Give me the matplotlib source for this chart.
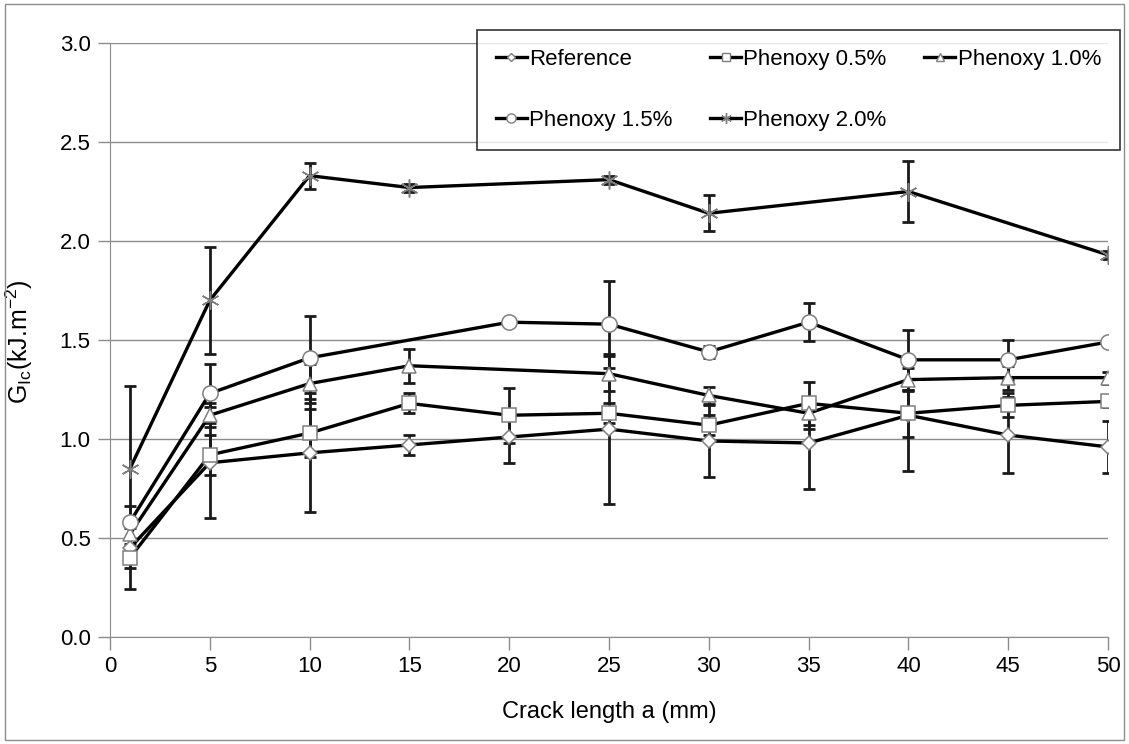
import matplotlib
matplotlib.use("Agg")
import matplotlib.pyplot as plt
from matplotlib.patches import Rectangle

plt.rcParams["font.family"] = ["Liberation Sans", "DejaVu Sans"]

# crack length a (mm)
crack = [1, 5, 10, 15, 20, 25, 30, 35, 40, 45, 50]

# G_Ic (kJ/m2) per formulation; None = no point at that crack length
ref = [0.45, 0.88, 0.93, 0.97, 1.01, 1.05, 0.99, 0.98, 1.12, 1.02, 0.96]
ref_err = [0.10, 0.28, 0.30, 0.05, 0.13, 0.38, 0.18, 0.23, 0.28, 0.19, 0.13]
p05 = [0.40, 0.92, 1.03, 1.18, 1.12, 1.13, 1.07, 1.18, 1.13, 1.17, 1.19]
p05_err = [0.16, 0.10, 0.12, 0.05, 0.14, 0.05, 0.05, 0.11, 0.12, 0.06, 0.03]
p10 = [0.52, 1.12, 1.28, 1.37, None, 1.33, 1.22, 1.13, 1.30, 1.31, 1.31]
p10_err = [0.05, 0.06, 0.10, 0.085, None, 0.09, 0.045, 0.08, 0.06, 0.06, 0.03]
p15 = [0.58, 1.23, 1.41, None, 1.59, 1.58, 1.44, 1.59, 1.40, 1.40, 1.49]
p15_err = [0.08, 0.15, 0.21, None, 0.02, 0.22, 0.03, 0.095, 0.15, 0.10, 0.02]
p20 = [0.85, 1.70, 2.33, 2.27, None, 2.31, 2.14, None, 2.25, None, 1.93]
p20_err = [0.42, 0.27, 0.065, 0.02, None, 0.02, 0.09, None, 0.155, None, 0.02]

series = [
    ("Reference", ref, ref_err, "D", 7),
    ("Phenoxy 0.5%", p05, p05_err, "s", 10),
    ("Phenoxy 1.0%", p10, p10_err, "^", 10),
    ("Phenoxy 1.5%", p15, p15_err, "o", 11),
    ("Phenoxy 2.0%", p20, p20_err, (6, 2, 0), 13),
]

GRID = "#8c8c8c"
fig = plt.figure(figsize=(11.29, 7.44), dpi=100)
ax = fig.add_axes([0.0974, 0.1438, 0.8840, 0.7984])

handles = {}
for name, vals, errs, mk, ms in series:
    xs = [c for c, v in zip(crack, vals) if v is not None]
    ys = [v for v in vals if v is not None]
    es = [e for e in errs if e is not None]
    ax.errorbar(xs, ys, yerr=es, fmt="none", ecolor="#1a1a1a", elinewidth=2,
                capsize=4, capthick=2, zorder=2)
    ax.plot(xs, ys, color="black", lw=2.4, zorder=3)
    ax.plot(xs, ys, ls="none", marker=mk, ms=ms, mfc="white", mec="#7f7f7f",
            mew=1.1, zorder=4)
    h, = ax.plot([], [], color="black", lw=2.4, marker=mk, ms=ms * 0.6,
                 mfc="white", mec="#7f7f7f", mew=1)
    handles[name] = h

ax.set_xlim(0, 50)
ax.set_ylim(0, 3)
ax.set_xticks(range(0, 51, 5))
ax.set_yticks([0, 0.5, 1.0, 1.5, 2.0, 2.5, 3.0])
ax.set_yticklabels(["0.0", "0.5", "1.0", "1.5", "2.0", "2.5", "3.0"])
ax.tick_params(axis="both", direction="out", length=9, width=1, color=GRID,
               labelsize=16, pad=5)
for s in ("top", "right"):
    ax.spines[s].set_visible(False)
for s in ("left", "bottom"):
    ax.spines[s].set_color(GRID)
ax.grid(axis="y", color=GRID, lw=1)
ax.set_axisbelow(True)

ax.set_xlabel("Crack length a (mm)", fontsize=17, labelpad=17)
ax.set_ylabel(r"G$_{\mathregular{Ic}}$(kJ.m$^{\mathregular{-2}}$)", fontsize=18)
ax.yaxis.set_label_coords(-0.075, 0.497)

# row-major order like the original legend
order = ["Reference", "Phenoxy 1.5%", "Phenoxy 0.5%", "Phenoxy 2.0%", "Phenoxy 1.0%"]
leg = ax.legend([handles[n] for n in order], order, ncol=3, fontsize=16,
                loc="upper right", bbox_to_anchor=(1.012, 1.022), borderaxespad=0,
                frameon=True, fancybox=False, edgecolor="black",
                handlelength=1.4, handletextpad=0.1, columnspacing=1.7,
                labelspacing=1.8, borderpad=0.85)
leg.get_frame().set_linewidth(1.2)
leg.set_zorder(10)

fig.patches.append(Rectangle((0.004, 0.006), 0.992, 0.988, transform=fig.transFigure,
                             fill=False, edgecolor=GRID, lw=1))

fig.savefig("out.png", dpi=100)
